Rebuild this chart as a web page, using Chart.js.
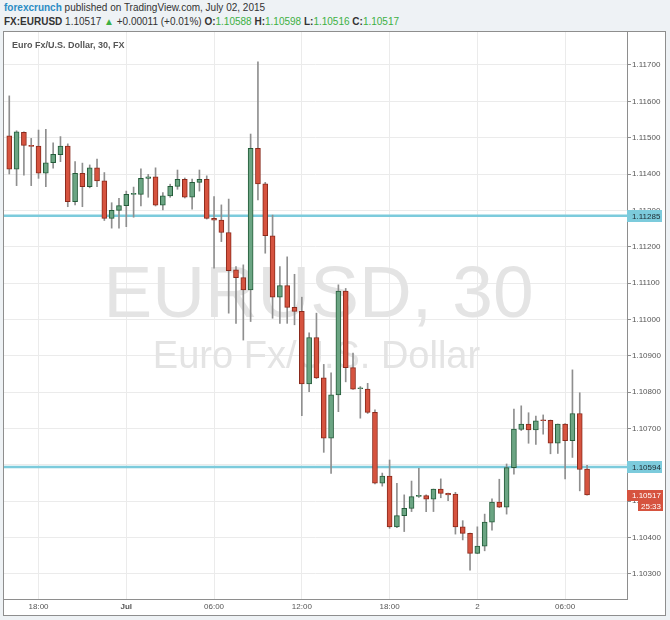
<!DOCTYPE html>
<html>
<head>
<meta charset="utf-8">
<script src="https://cdn.jsdelivr.net/npm/chart.js@4.4.0/dist/chart.umd.min.js"></script>
<style>
  html, body { margin: 0; padding: 0; width: 670px; height: 620px; overflow: hidden; background: #eef2f5;
               font-family: "Liberation Sans", Arial, sans-serif; }
  .hdr { position: absolute; left: 4px; font-size: 10px; color: #333; white-space: nowrap; }
  #hdr1 { top: 2px; }
  #hdr2 { top: 16px; }
  .brand { color: #2b8cc4; font-weight: bold; }
  .g { color: #3cb043; }
  #frame { position: absolute; left: 3px; top: 31px; width: 661px; height: 583px;
           border: 1px solid #8e8e8e; background: #fff; }
  #chart { display: block; }
</style>
</head>
<body>
<div class="hdr" id="hdr1"><span class="brand">forexcrunch</span> published on TradingView.com, July 02, 2015</div>
<div class="hdr" id="hdr2"></div>
<div id="frame"><canvas id="chart" width="661" height="583"></canvas></div>
<script>
// ── EURUSD 30 min candles, 30 Jun 16:00 → 2 Jul 07:30 ─────────────────────────
const opens = [
    1.11505, 1.11413, 1.11515, 1.11479, 1.11477, 1.11402, 1.11431, 1.11453, 1.11477, 1.11324,
    1.11402, 1.11365, 1.11417, 1.11381, 1.11278, 1.11300, 1.11313, 1.11344, 1.11344, 1.11388,
    1.11392, 1.11314, 1.11340, 1.11366, 1.11385, 1.11336, 1.11377, 1.11385, 1.11278, 1.11273,
    1.11239, 1.11136, 1.11115, 1.11081, 1.11471, 1.11373, 1.11230, 1.11061, 1.11093, 1.11033,
    1.11022, 1.10822, 1.10950, 1.10839, 1.10673, 1.10792, 1.11078, 1.10867, 1.10809, 1.10808,
    1.10744, 1.10549, 1.10569, 1.10429, 1.10460, 1.10480, 1.10513, 1.10515, 1.10505, 1.10533,
    1.10521, 1.10519, 1.10429, 1.10411, 1.10356, 1.10376, 1.10442, 1.10497, 1.10483, 1.10592,
    1.10697, 1.10712, 1.10696, 1.10722, 1.10722, 1.10659, 1.10712, 1.10666, 1.10741, 1.10588
];
const highs = [
    1.11615, 1.11519, 1.11516, 1.11498, 1.11521, 1.11523, 1.11486, 1.11503, 1.11483, 1.11434,
    1.11430, 1.11425, 1.11441, 1.11404, 1.11321, 1.11333, 1.11353, 1.11364, 1.11414, 1.11399,
    1.11417, 1.11349, 1.11372, 1.11411, 1.11389, 1.11386, 1.11411, 1.11395, 1.11338, 1.11315,
    1.11331, 1.11145, 1.11150, 1.11510, 1.11709, 1.11377, 1.11287, 1.11145, 1.11172, 1.11124,
    1.11061, 1.10963, 1.11017, 1.10876, 1.10853, 1.11095, 1.11085, 1.10907, 1.10815, 1.10824,
    1.10751, 1.10577, 1.10613, 1.10549, 1.10517, 1.10555, 1.10590, 1.10517, 1.10533, 1.10561,
    1.10522, 1.10524, 1.10446, 1.10412, 1.10429, 1.10464, 1.10506, 1.10560, 1.10602, 1.10753,
    1.10762, 1.10743, 1.10734, 1.10737, 1.10723, 1.10712, 1.10713, 1.10861, 1.10798, 1.10598
];
const lows = [
    1.11400, 1.11368, 1.11397, 1.11368, 1.11388, 1.11365, 1.11416, 1.11434, 1.11310, 1.11315,
    1.11310, 1.11362, 1.11365, 1.11272, 1.11251, 1.11251, 1.11255, 1.11281, 1.11312, 1.11336,
    1.11312, 1.11301, 1.11336, 1.11358, 1.11334, 1.11303, 1.11353, 1.11276, 1.11141, 1.11214,
    1.11017, 1.10989, 1.10943, 1.10994, 1.11329, 1.11182, 1.11003, 1.10989, 1.10989, 1.10985,
    1.10735, 1.10801, 1.10837, 1.10634, 1.10576, 1.10746, 1.10828, 1.10807, 1.10728, 1.10741,
    1.10547, 1.10541, 1.10425, 1.10427, 1.10416, 1.10471, 1.10510, 1.10471, 1.10471, 1.10509,
    1.10501, 1.10409, 1.10393, 1.10310, 1.10355, 1.10363, 1.10420, 1.10482, 1.10464, 1.10574,
    1.10694, 1.10659, 1.10656, 1.10684, 1.10630, 1.10631, 1.10561, 1.10620, 1.10528, 1.10516
];
const closes = [
    1.11413, 1.11516, 1.11479, 1.11476, 1.11402, 1.11431, 1.11454, 1.11477, 1.11324, 1.11402,
    1.11365, 1.11417, 1.11381, 1.11278, 1.11300, 1.11313, 1.11344, 1.11345, 1.11388, 1.11392,
    1.11314, 1.11340, 1.11366, 1.11385, 1.11336, 1.11377, 1.11385, 1.11278, 1.11273, 1.11239,
    1.11134, 1.11115, 1.11081, 1.11471, 1.11373, 1.11230, 1.11061, 1.11093, 1.11033, 1.11022,
    1.10822, 1.10950, 1.10839, 1.10673, 1.10792, 1.11078, 1.10867, 1.10808, 1.10810, 1.10744,
    1.10549, 1.10569, 1.10429, 1.10460, 1.10480, 1.10512, 1.10515, 1.10505, 1.10533, 1.10521,
    1.10517, 1.10429, 1.10411, 1.10356, 1.10376, 1.10442, 1.10497, 1.10483, 1.10592, 1.10698,
    1.10712, 1.10696, 1.10721, 1.10721, 1.10659, 1.10712, 1.10666, 1.10741, 1.10587, 1.10517
];

// x axis: candle index, labels at 6h steps
const xTickIdx = [4, 16, 28, 40, 52, 64, 76];
const xTickLabels = ['18:00', 'Jul', '06:00', '12:00', '18:00', '2', '06:00'];
const yTicks = [1.103, 1.104, 1.105, 1.106, 1.107, 1.108, 1.109, 1.110,
                1.111, 1.112, 1.113, 1.114, 1.115, 1.116, 1.117];

// horizontal levels and last-price tag
const levels = [1.11285, 1.10594];
const change = '+0.00011 (+0.01%)';
const countdown = '25:33';
const titleText = 'Euro Fx/U.S. Dollar, 30, FX';
const wmMain = 'EURUSD, 30';
const wmSub = 'Euro Fx/U.S. Dollar';

const RED = '#d6533f', RED_EDGE = '#8a2a1c';
const GREEN = '#6ba583', GREEN_EDGE = '#245c3a';
const WICK = '#8f8f8f';
const LEVEL = '#7ccbdc';

const last = closes.length - 1;
document.getElementById('hdr2').innerHTML =
    `<b>FX:EURUSD</b> ${closes[last].toFixed(5)} <span class="g">&#9650;</span> ${change} ` +
    `<b>O:</b><span class="g">${opens[last].toFixed(5)}</span> ` +
    `<b>H:</b><span class="g">${highs[last].toFixed(5)}</span> ` +
    `<b>L:</b><span class="g">${lows[last].toFixed(5)}</span> ` +
    `<b>C:</b><span class="g">${closes[last].toFixed(5)}</span>`;

Chart.defaults.font.family = '"Liberation Sans", Arial, sans-serif';

const up = i => closes[i] >= opens[i];
const idx = opens.map((_, i) => i);

const watermark = {
    id: 'watermark',
    beforeDatasetsDraw(chart) {
        const { ctx, chartArea: a } = chart;
        const cx = (a.left + a.right) / 2 + 2;
        ctx.save();
        ctx.fillStyle = '#e4e4e4';
        ctx.textAlign = 'center';
        ctx.textBaseline = 'alphabetic';
        ctx.font = '73px "Liberation Sans", Arial, sans-serif';
        ctx.fillText(wmMain, cx + 1, 285);
        ctx.font = '38px "Liberation Sans", Arial, sans-serif';
        ctx.fillText(wmSub, cx - 1, 336);
        ctx.fillStyle = '#555';
        ctx.textAlign = 'left';
        ctx.font = 'bold 9px "Liberation Sans", Arial, sans-serif';
        ctx.fillText(titleText, 8, 16, 113);
        ctx.restore();
    }
};

const priceTags = {
    id: 'priceTags',
    afterDraw(chart) {
        const { ctx, scales: { y }, chartArea: a } = chart;
        const x0 = a.right;
        ctx.save();
        ctx.font = '8px "Liberation Sans", Arial, sans-serif';
        ctx.textBaseline = 'middle';
        levels.forEach(v => {
            const py = Math.round(y.getPixelForValue(v));
            ctx.fillStyle = LEVEL;
            ctx.fillRect(x0, py - 6, 35, 12);
            ctx.fillStyle = '#1e2a30';
            ctx.fillText(v.toFixed(5), x0 + 5, py + 0.5);
        });
        const py = Math.round(y.getPixelForValue(closes[last]));
        ctx.fillStyle = RED;
        ctx.fillRect(x0, py - 5, 36, 11);
        ctx.fillRect(x0 + 11, py + 6, 25, 10);
        ctx.fillStyle = '#fff';
        ctx.fillText(closes[last].toFixed(5), x0 + 5, py + 0.5);
        ctx.fillText(countdown, x0 + 14, py + 11.5);
        ctx.restore();
    }
};

const levelSets = levels.map(v => ({
    type: 'line',
    data: [{ x: -2, y: v }, { x: 90, y: v }],
    borderColor: LEVEL,
    borderWidth: 2.5,
    pointRadius: 0,
    order: 5
}));

new Chart(document.getElementById('chart'), {
    type: 'bar',
    data: {
        datasets: [
            {
                data: idx.map(i => ({ x: i, y: [lows[i], highs[i]] })),
                backgroundColor: WICK,
                barThickness: 1,
                grouped: false,
                order: 2
            },
            {
                data: idx.map(i => ({ x: i, y: [opens[i], closes[i]] })),
                backgroundColor: idx.map(i => up(i) ? GREEN : RED),
                borderColor: idx.map(i => up(i) ? GREEN_EDGE : RED_EDGE),
                borderWidth: 1,
                borderSkipped: false,
                barThickness: 5,
                minBarLength: 1,
                grouped: false,
                order: 1
            },
            ...levelSets
        ]
    },
    options: {
        responsive: false,
        animation: false,
        layout: { padding: 0 },
        plugins: { legend: { display: false }, tooltip: { enabled: false } },
        scales: {
            x: {
                type: 'linear',
                min: -0.72,
                max: 84.46,
                offset: false,
                afterBuildTicks: s => { s.ticks = xTickIdx.map(v => ({ value: v })); },
                afterFit: s => { s.height = 16; s.paddingLeft = 0; s.paddingRight = 0; },
                ticks: {
                    autoSkip: false,
                    maxRotation: 0,
                    padding: 3,
                    color: '#555',
                    font: c => ({ size: 8, weight: c.index === 1 ? 'bold' : 'normal' }),
                    callback: v => xTickLabels[xTickIdx.indexOf(v)]
                },
                grid: { color: '#ebebeb', offset: false, drawTicks: false },
                border: { display: true, color: '#8e8e8e' }
            },
            y: {
                position: 'right',
                min: 1.102304,
                max: 1.117908,
                afterBuildTicks: s => { s.ticks = yTicks.map(v => ({ value: v })); },
                afterFit: s => { s.width = 38; s.paddingTop = 0; s.paddingBottom = 0; },
                ticks: {
                    padding: 1,
                    color: '#555',
                    font: { size: 8 },
                    callback: v => v.toFixed(5)
                },
                grid: { color: '#ebebeb', tickLength: 4, tickColor: '#8e8e8e' },
                border: { display: true, color: '#8e8e8e' }
            }
        }
    },
    plugins: [watermark, priceTags]
});
</script>
</body>
</html>
